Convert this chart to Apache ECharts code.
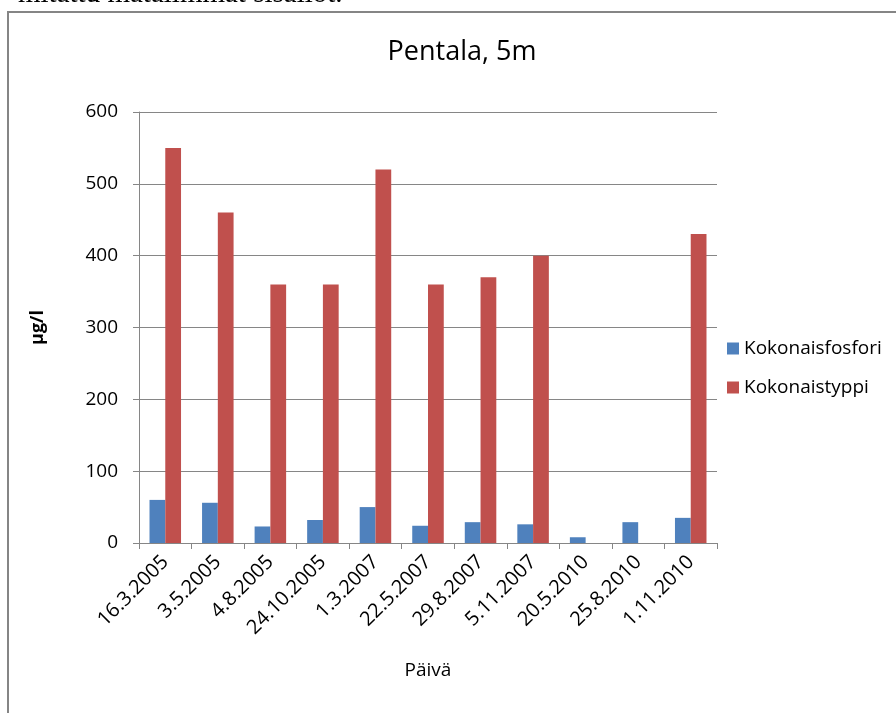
<!DOCTYPE html>
<html>
<head>
<meta charset="utf-8">
<script src="https://cdn.jsdelivr.net/npm/echarts@6/dist/echarts.min.js"></script>
<style>
html,body{margin:0;padding:0;background:#fff;}
#main{width:896px;height:713px;}
</style>
</head>
<body>
<div id="main"></div>
<script>
var paivat = ['16.3.2005','3.5.2005','4.8.2005','24.10.2005','1.3.2007','22.5.2007','29.8.2007','5.11.2007','20.5.2010','25.8.2010','1.11.2010'];
var fosfori = [60, 56, 23, 32, 50, 24, 29, 26, 8, 29, 35];
var typpi = [550, 460, 360, 360, 520, 360, 370, 400, null, null, 430];
var yTicks = [0, 100, 200, 300, 400, 500, 600];

var fontFam = '"Open Sans", "Noto Sans", sans-serif';

var myChart = echarts.init(document.getElementById('main'));

var option = {
    backgroundColor: '#fff',
    animation: false,
    title: {
        text: 'Pentala, 5m',
        left: 457,
        textAlign: 'center',
        top: 34,
        textStyle: { fontFamily: fontFam, fontSize: 27, fontWeight: 'normal', color: '#000' }
    },
    legend: {
        orient: 'vertical',
        left: 722,
        top: 334,
        itemWidth: 12,
        itemHeight: 12,
        itemGap: 20,
        icon: 'rect',
        textStyle: { fontFamily: fontFam, fontSize: 19, color: '#000' },
        data: ['Kokonaisfosfori', 'Kokonaistyppi']
    },
    grid: { left: 139, right: 179, top: 112, bottom: 170 },
    graphic: [
        {
            type: 'rect',
            shape: { x: 8, y: 12, width: 1000, height: 1000 },
            style: { fill: 'none', stroke: '#858585', lineWidth: 2 }
        },
        {
            type: 'text',
            x: 18,
            y: 9,
            style: { text: 'mitattu matalimmat sisällöt.', font: '29px "Liberation Serif", serif', fill: '#000', verticalAlign: 'bottom' }
        },
        {
            type: 'text',
            x: 428,
            y: 671,
            style: { text: 'Päivä', font: '19px "Open Sans", sans-serif', fill: '#000', align: 'center', verticalAlign: 'middle' }
        }
    ],
    xAxis: {
        type: 'category',
        data: paivat,
        axisLine: { lineStyle: { color: '#868686', width: 1 } },
        axisTick: { show: true, length: 6, lineStyle: { color: '#868686' } },
        axisLabel: { rotate: 45, fontFamily: fontFam, fontSize: 20, color: '#000', margin: 16 }
    },
    yAxis: {
        type: 'value',
        min: 0,
        max: 600,
        interval: 100,
        name: 'µg/l',
        nameLocation: 'middle',
        nameGap: 92,
        nameRotate: 90,
        nameTextStyle: { fontFamily: fontFam, fontSize: 18, fontWeight: 'bold', color: '#000' },
        axisLine: { show: true, lineStyle: { color: '#868686' } },
        axisTick: { show: true, length: 6, inside: false, lineStyle: { color: '#868686' } },
        splitLine: { lineStyle: { color: '#868686', width: 1 } },
        axisLabel: {
            fontFamily: fontFam, fontSize: 19, color: '#000', margin: 21,
            formatter: function (v) { return yTicks.indexOf(v) >= 0 ? String(v) : ''; }
        }
    },
    series: [
        {
            name: 'Kokonaisfosfori',
            type: 'bar',
            data: fosfori,
            barGap: '0%',
            barCategoryGap: '40%',
            itemStyle: { color: '#4f81bd' }
        },
        {
            name: 'Kokonaistyppi',
            type: 'bar',
            data: typpi,
            barGap: '0%',
            barCategoryGap: '40%',
            itemStyle: { color: '#c0504d' }
        }
    ]
};
myChart.setOption(option);
</script>
</body>
</html>
